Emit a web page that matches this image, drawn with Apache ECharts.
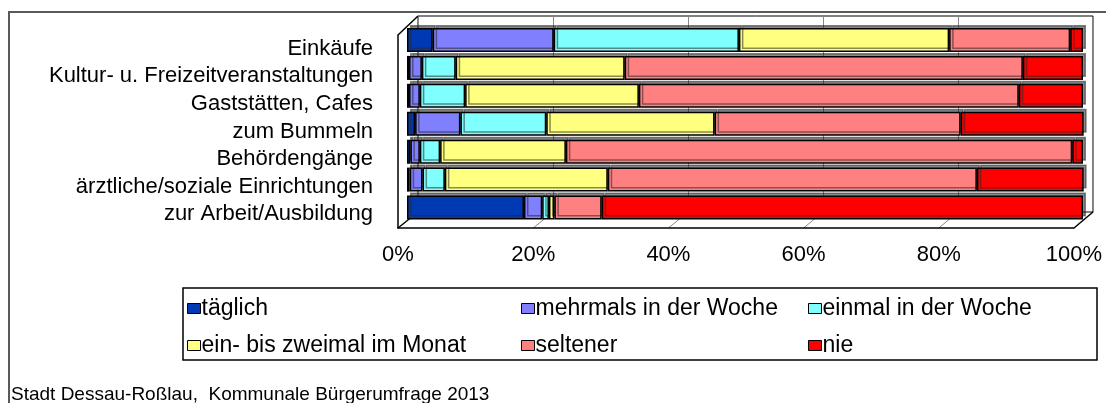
<!DOCTYPE html>
<html>
<head>
<meta charset="utf-8">
<script src="https://cdn.jsdelivr.net/npm/echarts/dist/echarts.min.js"></script>
<style>
  html, body { margin: 0; padding: 0; background: #fff; }
  #main { width: 1106px; height: 403px; }
</style>
</head>
<body>
<div id="main"></div>
<script>
  var categories = ['Einkäufe', 'Kultur- u. Freizeitveranstaltungen', 'Gaststätten, Cafes', 'zum Bummeln',
    'Behördengänge', 'ärztliche/soziale Einrichtungen', 'zur Arbeit/Ausbildung'];
  var seriesNames = ['täglich', 'mehrmals in der Woche', 'einmal in der Woche',
    'ein- bis zweimal im Monat', 'seltener', 'nie'];
  var taeglich = [3.8, 0.3, 0.3, 1.2, 0.5, 0.4, 17.3];
  var mehrmals = [17.9, 1.9, 1.6, 6.7, 1.4, 1.9, 2.7];
  var einmal = [27.4, 5.0, 6.7, 12.7, 3.0, 3.3, 1.0];
  var monatlich = [31.1, 25.0, 25.7, 24.9, 18.6, 24.1, 0.8];
  var seltener = [17.9, 58.9, 56.2, 36.4, 74.9, 54.6, 7.0];
  var nie = [1.9, 8.9, 9.5, 18.2, 1.6, 15.8, 71.2];
  var ticks = [0, 20, 40, 60, 80, 100];

  var colors = ['#0039b4', '#8080ff', '#80ffff', '#ffff80', '#ff8080', '#ff0000'];
  var values = [taeglich, mehrmals, einmal, monatlich, seltener, nie];
  var font = 'Liberation Sans, Arial, sans-serif';

  // three grids fake the 3D box: back wall, front edge, bars in between
  var back = {left: 418, top: 16, width: 675, height: 196};
  var front = {left: 398, top: 35, width: 676, height: 193};
  var bars = {left: 407, top: 26, width: 676, height: 195.5};

  var chart = echarts.init(document.getElementById('main'));

  var series = seriesNames.map(function(name, i) {
    return {
      name: name,
      type: 'bar',
      stack: 'all',
      xAxisIndex: 2,
      yAxisIndex: 2,
      barCategoryGap: '14%',
      itemStyle: {
        color: colors[i],
        borderColor: '#000',
        borderWidth: 1.5,
        shadowColor: 'rgba(40,40,40,0.55)',
        shadowOffsetX: 3,
        shadowOffsetY: -3,
        shadowBlur: 0
      },
      data: values[i]
    };
  });

  function legendCol(left, names) {
    return {
      orient: 'vertical',
      left: left,
      top: 297,
      padding: 0,
      itemGap: 14,
      itemWidth: 13,
      itemHeight: 10,
      icon: 'rect',
      selectedMode: false,
      data: names,
      itemStyle: {borderColor: '#000', borderWidth: 1, shadowBlur: 0, shadowOffsetX: 0, shadowOffsetY: 0, shadowColor: 'transparent'},
      textStyle: {fontFamily: font, fontSize: 23, color: '#000', padding: [0, 0, 0, -4]}
    };
  }

  chart.setOption({
    animation: false,
    title: {
      text: 'Stadt Dessau-Roßlau,  Kommunale Bürgerumfrage 2013',
      left: 11,
      top: 385,
      padding: 0,
      textStyle: {fontFamily: font, fontSize: 19, fontWeight: 'normal', color: '#000'}
    },
    legend: [
      legendCol(187, [seriesNames[0], seriesNames[3]]),
      legendCol(521, [seriesNames[1], seriesNames[4]]),
      legendCol(808, [seriesNames[2], seriesNames[5]])
    ],
    grid: [
      {left: back.left, top: back.top, width: back.width, height: back.height, show: true, borderColor: '#000', borderWidth: 1},
      {left: front.left, top: front.top, width: front.width, height: front.height},
      {left: bars.left, top: bars.top, width: bars.width, height: bars.height}
    ],
    xAxis: [
      {
        gridIndex: 0, type: 'value', min: 0, max: 100, interval: 20,
        axisLine: {show: false}, axisTick: {show: false}, axisLabel: {show: false},
        splitLine: {show: true, lineStyle: {color: '#888', width: 1}}
      },
      {
        gridIndex: 1, type: 'value', min: 0, max: 100, interval: 20,
        axisLine: {show: true, lineStyle: {color: '#000', width: 1.5}},
        axisTick: {show: false},
        splitLine: {show: false},
        axisLabel: {
          margin: 16, fontFamily: font, fontSize: 22, color: '#000',
          formatter: '{value}%'
        }
      },
      {gridIndex: 2, type: 'value', min: 0, max: 100, show: false, splitLine: {show: false}}
    ],
    yAxis: [
      {gridIndex: 0, type: 'category', data: categories, inverse: true, show: false},
      {
        gridIndex: 1, type: 'category', data: categories, inverse: true,
        axisLine: {show: true, lineStyle: {color: '#000', width: 1.5}},
        axisTick: {show: false},
        axisLabel: {interval: 0, margin: 25, fontFamily: font, fontSize: 22, color: '#000', padding: [8, 0, 0, 0]}
      },
      {gridIndex: 2, type: 'category', data: categories, inverse: true, show: false}
    ],
    series: series
  });

  // frame decoration: outer border, legend box, floor and corner edges
  var frontY = front.top + front.height;
  var backY = back.top + back.height;
  var graphics = [
    {type: 'rect', shape: {x: 9, y: 12, width: 1200, height: 500}, style: {fill: 'none', stroke: '#595959', lineWidth: 2}, silent: true},
    {type: 'rect', shape: {x: 183, y: 288, width: 914, height: 72}, style: {fill: 'none', stroke: '#000', lineWidth: 1.5}, silent: true},
    {type: 'line', shape: {x1: front.left, y1: front.top, x2: back.left, y2: back.top}, style: {stroke: '#000', lineWidth: 1.5}, silent: true},
    {type: 'line', shape: {x1: front.left, y1: frontY, x2: back.left, y2: backY}, style: {stroke: '#000', lineWidth: 1.5}, silent: true},
    {type: 'line', shape: {x1: front.left + front.width, y1: frontY, x2: back.left + back.width, y2: backY}, style: {stroke: '#000', lineWidth: 1.5}, silent: true}
  ];
  ticks.slice(1, -1).forEach(function(t) {
    graphics.push({
      type: 'line',
      shape: {
        x1: chart.convertToPixel({xAxisIndex: 1}, t), y1: frontY,
        x2: chart.convertToPixel({xAxisIndex: 0}, t), y2: backY
      },
      style: {stroke: '#888', lineWidth: 1},
      silent: true,
      z: -1
    });
  });
  chart.setOption({graphic: graphics});
</script>
</body>
</html>
